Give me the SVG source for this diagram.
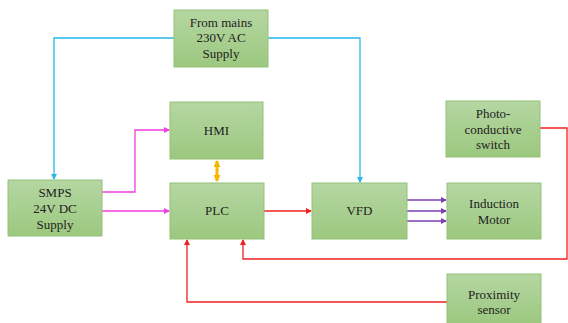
<svg xmlns="http://www.w3.org/2000/svg" width="568" height="323" viewBox="0 0 568 323">
<defs>
<linearGradient id="g" x1="0" y1="0" x2="0" y2="1">
<stop offset="0" stop-color="#b5d6a2"/>
<stop offset="1" stop-color="#9cc87f"/>
</linearGradient>
<marker id="ac" markerWidth="6" markerHeight="6" refX="5" refY="3" orient="auto" markerUnits="userSpaceOnUse"><path d="M0,0 L6,3 L0,6 z" fill="#29b6e8"/></marker>
<marker id="ap" markerWidth="6" markerHeight="6" refX="5" refY="3" orient="auto" markerUnits="userSpaceOnUse"><path d="M0,0 L6,3 L0,6 z" fill="#f03ee0"/></marker>
<marker id="ar" markerWidth="6" markerHeight="6" refX="5" refY="3" orient="auto" markerUnits="userSpaceOnUse"><path d="M0,0 L6,3 L0,6 z" fill="#f02020"/></marker>
<marker id="av" markerWidth="6" markerHeight="6" refX="5" refY="3" orient="auto" markerUnits="userSpaceOnUse"><path d="M0,0 L6,3 L0,6 z" fill="#7a3fb0"/></marker>
<marker id="ao" markerWidth="7" markerHeight="7" refX="6" refY="3.5" orient="auto-start-reverse" markerUnits="userSpaceOnUse"><path d="M0,0 L7,3.5 L0,7 z" fill="#f5b800"/></marker>
</defs>
<style>
.box{fill:url(#g);stroke:#94c27a;stroke-width:1}
.t{font-family:"Liberation Serif","Times New Roman",serif;font-size:13px;fill:#222;text-anchor:middle}
.c{fill:none;stroke-width:1.3}
.cy{stroke:#29b6e8}
.pk{stroke:#f03ee0}
.rd{stroke:#f02020}
.pu{stroke:#7a3fb0}
.or{stroke:#f5b800;stroke-width:3}
</style>
<g id="connectors">
<polyline class="c cy" points="174,38 54,38 54,179" marker-end="url(#ac)"/>
<polyline class="c cy" points="268,38 360,38 360,182" marker-end="url(#ac)"/>
<polyline class="c pk" points="102,192 135,192 135,130 169,130" marker-end="url(#ap)"/>
<polyline class="c pk" points="102,211 169,211" marker-end="url(#ap)"/>
<line class="c or" x1="217" y1="161" x2="217" y2="181" marker-start="url(#ao)" marker-end="url(#ao)"/>
<polyline class="c rd" points="264,211 311,211" marker-end="url(#ar)"/>
<polyline class="c pu" points="407,200 446,200" marker-end="url(#av)"/>
<polyline class="c pu" points="407,211 446,211" marker-end="url(#av)"/>
<polyline class="c pu" points="407,221 446,221" marker-end="url(#av)"/>
<polyline class="c rd" points="540,128 567,128 567,259 243,259 243,240" marker-end="url(#ar)"/>
<polyline class="c rd" points="447,302 187,302 187,240" marker-end="url(#ar)"/>
</g>
<g id="mains"><rect class="box" x="174" y="10" width="94" height="57"/><text class="t" x="221" y="27">From mains</text><text class="t" x="221" y="42">230V AC</text><text class="t" x="221" y="58">Supply</text></g>
<g id="hmi"><rect class="box" x="170" y="102" width="93" height="57"/><text class="t" x="216.5" y="135">HMI</text></g>
<g id="smps"><rect class="box" x="8" y="180" width="94" height="56"/><text class="t" x="55" y="197">SMPS</text><text class="t" x="55" y="213">24V DC</text><text class="t" x="55" y="229">Supply</text></g>
<g id="plc"><rect class="box" x="170" y="183" width="94" height="56"/><text class="t" x="217" y="215">PLC</text></g>
<g id="vfd"><rect class="box" x="312" y="183" width="95" height="56"/><text class="t" x="359.5" y="215">VFD</text></g>
<g id="motor"><rect class="box" x="447" y="183" width="94" height="56"/><text class="t" x="494" y="208">Induction</text><text class="t" x="494" y="224">Motor</text></g>
<g id="photo"><rect class="box" x="446" y="101" width="94" height="56"/><text class="t" x="493" y="118">Photo-</text><text class="t" x="493" y="134">conductive</text><text class="t" x="493" y="149">switch</text></g>
<g id="proximity"><rect class="box" x="447" y="274" width="94" height="50"/><text class="t" x="494" y="299">Proximity</text><text class="t" x="494" y="314">sensor</text></g>
</svg>
